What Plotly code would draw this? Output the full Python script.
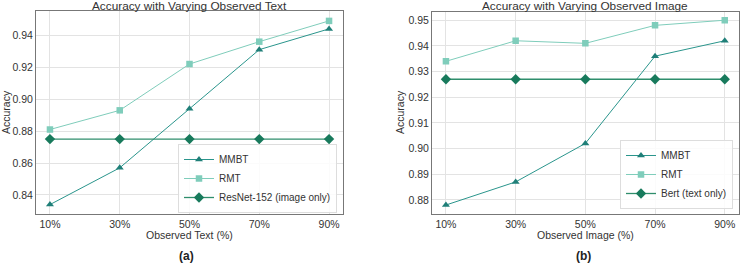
import plotly.graph_objects as go

x_labels = ["10%", "30%", "50%", "70%", "90%"]

text_mmbt = [0.834, 0.857, 0.894, 0.931, 0.944]
text_rmt = [0.881, 0.893, 0.922, 0.936, 0.949]
text_resnet = [0.875, 0.875, 0.875, 0.875, 0.875]

img_mmbt = [0.878, 0.887, 0.902, 0.936, 0.942]
img_rmt = [0.934, 0.942, 0.941, 0.948, 0.950]
img_bert = [0.927, 0.927, 0.927, 0.927, 0.927]

W, H = 740, 268
C_MMBT = "#1f7f78"
C_MMBT_LINE = "#2a958c"
C_RMT = "#7fcdbb"
C_BASE = "#187a5c"
C_BASE_LINE = "#2f8e6c"
FONT = "Liberation Sans, Arial, sans-serif"
TXT = "#333333"

xi = list(range(len(x_labels)))

fig = go.Figure()

def add_series(xa, ya, leg, mmbt, rmt, base, base_name):
    fig.add_trace(go.Scatter(x=xi, y=mmbt, mode="lines+markers", name="MMBT",
                             line=dict(color=C_MMBT_LINE, width=1),
                             marker=dict(symbol="triangle-up", size=7, color=C_MMBT),
                             xaxis=xa, yaxis=ya, legend=leg))
    fig.add_trace(go.Scatter(x=xi, y=rmt, mode="lines+markers", name="RMT",
                             line=dict(color=C_RMT, width=1),
                             marker=dict(symbol="square", size=6.5, color=C_RMT),
                             xaxis=xa, yaxis=ya, legend=leg))
    fig.add_trace(go.Scatter(x=xi, y=base, mode="lines+markers", name=base_name,
                             line=dict(color=C_BASE_LINE, width=1.3),
                             marker=dict(symbol="diamond", size=8, color=C_BASE),
                             xaxis=xa, yaxis=ya, legend=leg))

add_series("x", "y", "legend", text_mmbt, text_rmt, text_resnet, "ResNet-152 (image only)")
add_series("x2", "y2", "legend2", img_mmbt, img_rmt, img_bert, "Bert (text only)")

def px_x(p):
    return p / W

def px_y(p):
    return 1 - p / H

axis_common = dict(showline=True, mirror=True, linecolor="#777777", linewidth=1,
                   showgrid=True, gridcolor="#e3e3e3", gridwidth=1, zeroline=False,
                   ticks="", tickfont=dict(family=FONT, size=10.5, color=TXT))

leg_common = dict(xanchor="right", yanchor="bottom",
                  bgcolor="rgba(255,255,255,0.85)", bordercolor="#dddddd", borderwidth=1,
                  font=dict(family=FONT, size=10, color=TXT), tracegroupgap=0,
                  itemwidth=30)

fig.update_layout(
    width=W, height=H,
    margin=dict(l=0, r=0, t=0, b=0),
    paper_bgcolor="white", plot_bgcolor="white",
    font=dict(family=FONT, color=TXT),
    xaxis=dict(domain=[px_x(36), px_x(343)], range=[-0.2, 4.2],
               tickmode="array", tickvals=xi, ticktext=x_labels, anchor="y", **axis_common),
    yaxis=dict(domain=[px_y(214), px_y(11)], range=[0.8281, 0.9552],
               tickmode="array", tickvals=[0.84, 0.86, 0.88, 0.90, 0.92, 0.94],
               tickformat=".2f", anchor="x", **axis_common),
    xaxis2=dict(domain=[px_x(432), px_x(738.7)], range=[-0.2, 4.2],
                tickmode="array", tickvals=xi, ticktext=x_labels, anchor="y2", **axis_common),
    yaxis2=dict(domain=[px_y(214), px_y(11.5)], range=[0.8745, 0.9534],
                tickmode="array", tickvals=[0.88, 0.89, 0.90, 0.91, 0.92, 0.93, 0.94, 0.95],
                tickformat=".2f", anchor="x2", **axis_common),
    legend=dict(x=px_x(337), y=px_y(213), **leg_common),
    legend2=dict(x=px_x(733), y=px_y(209), **leg_common),
    showlegend=True,
)

def ann(text, x, y, size, bold=False, angle=0):
    fig.add_annotation(text=f"<b>{text}</b>" if bold else text,
                       x=px_x(x), y=px_y(y), xref="paper", yref="paper",
                       showarrow=False, xanchor="center", yanchor="middle",
                       textangle=angle,
                       font=dict(family=FONT, size=size, color="#222222" if bold else TXT))

ann("Accuracy with Varying Observed Text", 189.5, 6, 11.8)
ann("Accuracy with Varying Observed Image", 585, 6, 11.8)
ann("Observed Text (%)", 189.5, 235, 10.5)
ann("Observed Image (%)", 585, 235, 10.5)
ann("Accuracy", 6, 112, 10.5, angle=-90)
ann("Accuracy", 400, 112, 10.5, angle=-90)
ann("(a)", 186, 256, 12, bold=True)
ann("(b)", 583, 256, 12, bold=True)

fig.write_html("out.html",
               config={"displayModeBar": False},
               post_script="document.body.style.margin='0';document.body.style.padding='0';")
